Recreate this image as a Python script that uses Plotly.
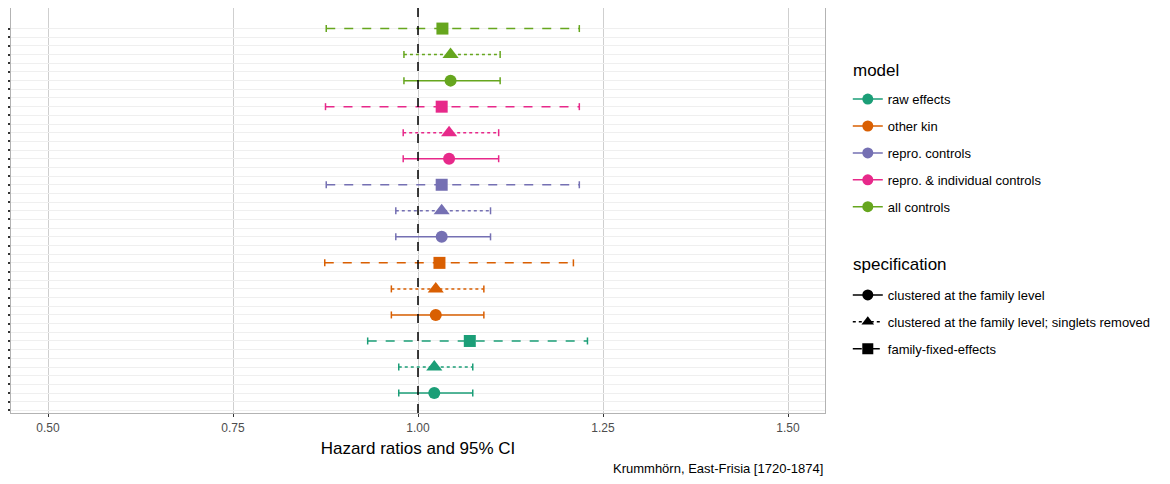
import plotly.graph_objects as go

# ---- data ----
models = ["raw effects", "other kin", "repro. controls", "repro. & individual controls", "all controls"]
model_colors = ["#1B9E77", "#D95F02", "#7570B3", "#E7298A", "#66A61E"]
specs = ["clustered at the family level",
         "clustered at the family level; singlets removed",
         "family-fixed-effects"]
spec_symbols = ["circle", "triangle-up", "square"]
spec_dash = ["solid", "dot", "dash"]

# hazard ratio estimates [model][spec]
hr = [
    [1.022, 1.022, 1.070],
    [1.024, 1.024, 1.029],
    [1.032, 1.032, 1.032],
    [1.042, 1.042, 1.032],
    [1.044, 1.044, 1.033],
]
ci_low = [
    [0.974, 0.974, 0.932],
    [0.964, 0.964, 0.874],
    [0.970, 0.970, 0.876],
    [0.980, 0.980, 0.875],
    [0.981, 0.981, 0.876],
]
ci_high = [
    [1.074, 1.074, 1.229],
    [1.089, 1.089, 1.210],
    [1.098, 1.098, 1.218],
    [1.109, 1.109, 1.218],
    [1.111, 1.111, 1.218],
]
reference_hr = 1.0
x_ticks = [0.50, 0.75, 1.00, 1.25, 1.50]
caption = "Krummhörn, East-Frisia [1720-1874]"
x_title = "Hazard ratios and 95% CI"
legend_titles = ["model", "specification"]

n_rows = len(models) * len(specs) * 3  # y slots (tick every slot, estimate every third)

fig = go.Figure()

for m, model in enumerate(models):
    for s, spec in enumerate(specs):
        y = 3 * (len(specs) * m + s + 1)
        col = model_colors[m]
        # CI line
        fig.add_trace(go.Scatter(
            x=[ci_low[m][s], ci_high[m][s]], y=[y, y], mode="lines+markers",
            line=dict(color=col, width=1.5, dash=spec_dash[s]),
            marker=dict(symbol="line-ns", size=5, line=dict(color=col, width=1.5)),
            showlegend=False, hoverinfo="skip"))
        # point estimate
        fig.add_trace(go.Scatter(
            x=[hr[m][s]], y=[y], mode="markers",
            marker=dict(symbol=spec_symbols[s], size=12 if s != 1 else 14, color=col,
                        line=dict(width=0)),
            showlegend=False,
            hovertemplate=f"{model}<br>{spec}<br>HR %{{x:.3f}}<extra></extra>"))

# legend entries: model
for m, model in enumerate(models):
    fig.add_trace(go.Scatter(
        x=[None], y=[None], mode="lines+markers", name=model,
        line=dict(color=model_colors[m], width=1.5),
        marker=dict(symbol="circle", size=11, color=model_colors[m]),
        legend="legend", legendgroup=f"m{m}"))
# legend entries: specification
for s, spec in enumerate(specs):
    fig.add_trace(go.Scatter(
        x=[None], y=[None], mode="lines+markers", name=spec,
        line=dict(color="black", width=1.5, dash=spec_dash[s]),
        marker=dict(symbol=spec_symbols[s], size=11, color="black"),
        legend="legend2", legendgroup=f"s{s}"))

fig.add_vline(x=reference_hr, line=dict(color="black", width=1.5, dash="dash"))

fig.add_annotation(text=caption, xref="paper", yref="paper", x=1, y=-0.137,
                   xanchor="right", yanchor="middle", showarrow=False,
                   font=dict(size=13, color="black"))
for title, ty in zip(legend_titles, [0.846, 0.366]):
    fig.add_annotation(text=title, xref="paper", yref="paper", x=1.032, y=ty,
                       xanchor="left", yanchor="middle", showarrow=False,
                       font=dict(size=17, color="black"))

fig.update_layout(
    width=1162, height=476,
    margin=dict(l=3, r=345, t=0, b=71, autoexpand=False),
    paper_bgcolor="white", plot_bgcolor="white",
    font=dict(family="Liberation Sans, Arial, sans-serif", color="black"),
    xaxis=dict(range=[0.45, 1.55], tickvals=x_ticks, ticktext=[f"{v:.2f}" for v in x_ticks],
               showgrid=True, gridcolor="#cfcfcf", gridwidth=1.2, zeroline=False,
               ticks="outside", ticklen=3, tickcolor="#333333", automargin=False,
               tickfont=dict(size=12, color="#4d4d4d"),
               title=dict(text=x_title, font=dict(size=17), standoff=8),
               showline=True, linecolor="#b3b3b3", mirror=True, linewidth=1.2),
    yaxis=dict(range=[0.7, n_rows + 2.37], tickvals=list(range(1, n_rows + 1)),
               showticklabels=False, showgrid=True, gridcolor="#efefef", gridwidth=1,
               zeroline=False, ticks="outside", ticklen=3, tickcolor="#333333", tickwidth=1.5,
               automargin=False,
               showline=True, linecolor="#b3b3b3", mirror=True, linewidth=1.2),
    legend=dict(x=1.028, y=0.812, xanchor="left", yanchor="top",
                font=dict(size=13), tracegroupgap=7, itemwidth=30),
    legend2=dict(x=1.028, y=0.3285, xanchor="left", yanchor="top",
                 font=dict(size=13), tracegroupgap=7, itemwidth=30),
)

fig.write_html("out.html")
